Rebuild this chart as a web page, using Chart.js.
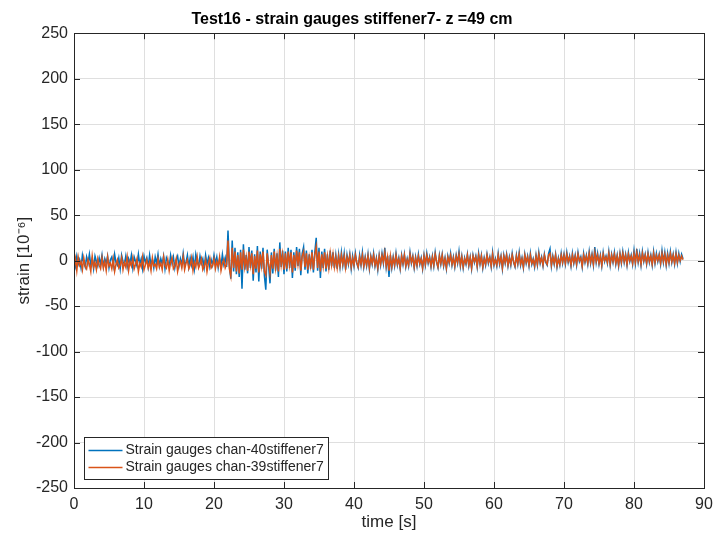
<!DOCTYPE html>
<html>
<head>
<meta charset="utf-8">
<script src="https://cdn.jsdelivr.net/npm/chart.js@4"></script>
<style>
  html, body { margin: 0; padding: 0; background: #fff; }
  #wrap { width: 715px; height: 538px; }
</style>
</head>
<body>
<div id="wrap"><canvas id="c" width="715" height="538"></canvas></div>
<script>
// sampling step of the read-off series (s)
const dt = 0.2;

const seriesNames = ['Strain gauges chan-40stiffener7', 'Strain gauges chan-39stiffener7'];

// chan-40 (blue), one value per dt
const chan40 = [
  3,-6,5,-4,1,-8,6,-2,-7,4,-3,7,-5,2,-9,5,-1,-6,3,-4,
  6,-7,2,-3,5,-8,1,4,-6,7,-2,-5,3,-9,6,-1,-4,5,-7,2,
  -3,6,-8,4,-1,-6,7,-4,2,-9,5,-2,3,-7,6,-5,1,-8,4,-3,
  7,-6,2,-4,5,-9,3,-1,-7,6,-3,4,-8,1,5,-6,2,-5,8,-4,
  -2,6,-7,3,-5,4,-9,7,-1,-6,5,-3,2,-8,6,-4,3,-7,1,-5,
  6,-3,4,-8,2,-6,7,-4,3,-7,
  33,-6,-20,22,-12,14,-15,9,-18,12,-31,18,-10,6,-14,15,-8,11,-22,7,
  -13,16,-23,10,-9,14,-17,-32,12,-6,-25,9,-14,13,-11,8,-18,20,-7,11,
  -15,10,-12,14,-8,12,-19,9,-11,15,-6,13,-16,8,15,-10,11,-14,7,-9,
  12,-13,9,25,-11,14,-19,10,-8,13,-12,7,-10,11,-6,9,-8,6,-9,7,
  -7,9,-5,8,-10,6,-4,7,-9,5,-6,8,-3,-8,6,-5,9,-7,4,-6,
  7,-9,5,-4,8,-6,3,-10,6,-5,8,-3,14,-7,5,-18,6,-8,4,-6,
  8,-5,3,-9,6,-4,7,-7,2,-6,9,-3,5,-8,4,-6,7,-4,3,-9,
  6,-5,8,-3,4,-7,5,-6,9,-2,-8,6,-4,7,-6,3,-9,5,-3,8,
  -5,4,-7,6,-3,10,-6,5,-8,3,-4,7,-6,4,-9,6,-2,5,-7,8,
  -4,6,-8,3,-5,7,-3,4,-7,9,-5,2,-6,8,-4,5,-9,6,-3,7,
  -6,4,-5,8,-2,-7,6,-4,9,-5,3,-8,7,-3,5,-6,8,-4,2,-7,
  6,-5,9,-3,4,-6,7,-2,-5,8,13,-6,5,-4,7,-7,3,-5,8,-3,
  7,-4,9,-2,5,-6,8,-3,6,-5,9,-1,4,-7,8,-2,6,-4,10,-3,
  7,-5,15,-2,8,-4,6,-6,9,-1,5,-3,10,-5,7,-2,9,-4,6,-6,
  8,-3,10,-2,7,-5,9,-1,6,-4,11,-3,13,-2,8,-5,10,-1,7,-4,
  9,-2,6,-5,10,-3,8,-1,7,-4,11,-2,9,-5,8,-3,10,-2,7,-4,
  9,-3,8,-1,7,2
];

// chan-39 (orange)
const chan39 = [
  -8,2,-11,4,-5,-1,-10,3,-6,-9,1,-4,-12,5,-7,-2,-10,2,-5,-9,
  3,-8,-1,-11,4,-6,-3,-9,2,-12,-4,1,-8,-5,3,-10,-2,-7,4,-11,
  -1,-6,3,-9,-4,2,-12,-3,-7,4,-10,-5,1,-8,-2,-11,3,-6,-4,-9,
  2,-7,-3,-10,4,-5,-8,1,-11,-2,3,-9,-6,2,-12,-4,-1,-8,4,-10,
  -3,1,-9,-5,3,-11,-2,-7,4,-8,-4,2,-10,-6,1,-12,-3,3,-8,-5,
  2,-9,-1,-6,4,-11,-3,1,-8,-4,
  22,-9,-17,14,-8,10,-12,6,-14,9,-10,12,-7,4,-11,10,-5,8,-15,5,
  -9,11,-13,7,-6,10,-12,-16,8,-4,-14,6,-9,10,-8,5,-12,13,-5,7,
  -10,8,-9,10,-5,9,-13,6,-8,11,-4,9,-11,5,10,-7,8,-10,4,-6,
  9,-10,6,15,-8,10,-12,7,-6,9,-9,5,-8,8,-5,7,-7,4,-8,5,
  -6,6,-4,5,-8,4,-3,6,-7,3,-5,6,-2,-7,4,-4,6,-6,3,-5,
  5,-8,4,-3,6,-5,2,-8,5,-4,6,-2,9,-6,4,-11,5,-7,3,-5,
  6,-4,2,-8,5,-3,6,-6,1,-5,7,-2,4,-7,3,-5,5,-3,2,-8,
  5,-4,6,-2,3,-6,4,-5,7,-1,-7,5,-3,6,-5,2,-8,4,-2,6,
  -4,3,-6,5,-2,7,-5,4,-7,2,-3,6,-5,3,-8,5,-1,4,-6,6,
  -3,5,-7,2,-4,6,-2,3,-6,7,-4,1,-5,6,-3,4,-8,5,-2,6,
  -5,3,-4,6,-1,-6,5,-3,7,-4,2,-7,6,-2,4,-5,6,-3,1,-6,
  5,-4,7,-2,3,-5,6,-1,-4,6,8,-5,4,-3,6,-6,2,-4,6,-2,
  6,-3,7,-1,4,-5,6,-2,5,-4,7,0,3,-6,6,-1,5,-3,8,-2,
  6,-4,9,-1,6,-3,5,-5,7,0,4,-2,8,-4,6,-1,7,-3,5,-5,
  7,-2,8,-1,6,-4,7,0,5,-3,8,-2,9,-1,6,-4,8,0,6,-3,
  7,-1,5,-4,8,-2,6,0,6,-3,8,-1,7,-4,6,-2,8,-1,6,-3,
  7,-2,6,0,5,1
];

const xTicks = [0, 10, 20, 30, 40, 50, 60, 70, 80, 90];
const yTicks = [-250, -200, -150, -100, -50, 0, 50, 100, 150, 200, 250];

const axisColor = '#262626';
const gridColor = '#dfdfdf';
const blue = '#0072BD';
const orange = '#D95319';
const fontFam = '"Liberation Sans", Arial, Helvetica, sans-serif';

const toPoints = arr => arr.map((v, i) => ({ x: i * dt, y: v }));

// MATLAB style box with inward ticks, plus the boxed legend
const axesBox = {
    id: 'axesBox',
    afterDraw(chart) {
        const { ctx, chartArea: a, scales } = chart;
        const len = 6;
        ctx.save();
        ctx.strokeStyle = axisColor;
        ctx.lineWidth = 1;
        ctx.beginPath();
        scales.x.ticks.forEach(t => {
            const px = Math.round(scales.x.getPixelForValue(t.value)) + 0.5;
            ctx.moveTo(px, a.bottom); ctx.lineTo(px, a.bottom - len);
            ctx.moveTo(px, a.top); ctx.lineTo(px, a.top + len);
        });
        scales.y.ticks.forEach(t => {
            const py = Math.round(scales.y.getPixelForValue(t.value)) + 0.5;
            ctx.moveTo(a.left, py); ctx.lineTo(a.left + len, py);
            ctx.moveTo(a.right, py); ctx.lineTo(a.right - len, py);
        });
        ctx.stroke();
        ctx.strokeRect(Math.round(a.left) + 0.5, Math.round(a.top) + 0.5,
            Math.round(a.right - a.left), Math.round(a.bottom - a.top));

        ctx.font = '14px ' + fontFam;
        const w = Math.max(...chart.data.datasets.map(d => ctx.measureText(d.label).width));
        const bx = Math.round(a.left) + 10.5, by = Math.round(a.bottom) - 50.5, bw = Math.round(w) + 46, bh = 42;
        ctx.fillStyle = '#fff';
        ctx.fillRect(bx, by, bw, bh);
        ctx.strokeRect(bx, by, bw, bh);
        ctx.textBaseline = 'middle';
        [blue, orange].forEach((col, i) => {
            const ly = by + 13 + i * 17;
            ctx.strokeStyle = col;
            ctx.lineWidth = 1.5;
            ctx.beginPath();
            ctx.moveTo(bx + 4, ly); ctx.lineTo(bx + 38, ly);
            ctx.stroke();
            ctx.fillStyle = axisColor;
            ctx.fillText(chart.data.datasets[i].label, bx + 41, ly);
        });
        ctx.restore();
    }
};

new Chart(document.getElementById('c'), {
    type: 'line',
    data: {
        datasets: [
            { label: seriesNames[0], data: toPoints(chan40), borderColor: blue, borderWidth: 1.5, pointRadius: 0, order: 1 },
            { label: seriesNames[1], data: toPoints(chan39), borderColor: orange, borderWidth: 1.5, pointRadius: 0, order: 0 }
        ]
    },
    options: {
        responsive: false,
        animation: false,
        layout: { padding: { right: 11 } },
        plugins: {
            legend: { display: false },
            tooltip: { enabled: false },
            title: {
                display: true,
                text: 'Test16 - strain gauges stiffener7- z =49 cm',
                color: '#000',
                font: { family: fontFam, size: 16, weight: 'bold' },
                padding: { top: 10, bottom: 4 }
            }
        },
        scales: {
            x: {
                type: 'linear',
                min: 0, max: 90,
                afterBuildTicks: s => { s.ticks = xTicks.map(v => ({ value: v })); },
                afterFit: s => { s.height = 50; s.paddingRight = 0; s.paddingLeft = 0; },
                grid: { color: gridColor, drawTicks: false },
                border: { display: false },
                ticks: { color: axisColor, padding: 7, maxRotation: 0, font: { family: fontFam, size: 16 } },
                title: { display: true, text: 'time [s]', color: axisColor, padding: { top: 0, bottom: 5 }, font: { family: fontFam, size: 17 } }
            },
            y: {
                type: 'linear',
                min: -250, max: 250,
                afterBuildTicks: s => { s.ticks = yTicks.map(v => ({ value: v })); },
                afterFit: s => { s.width = 74; s.paddingTop = 0; s.paddingBottom = 0; },
                grid: { color: gridColor, drawTicks: false },
                border: { display: false },
                ticks: { color: axisColor, padding: 6, font: { family: fontFam, size: 16 } },
                title: { display: true, text: 'strain [10⁻⁶]', color: axisColor, padding: { top: 14, bottom: 0 }, font: { family: fontFam, size: 17 } }
            }
        }
    },
    plugins: [axesBox]
});
</script>
</body>
</html>
